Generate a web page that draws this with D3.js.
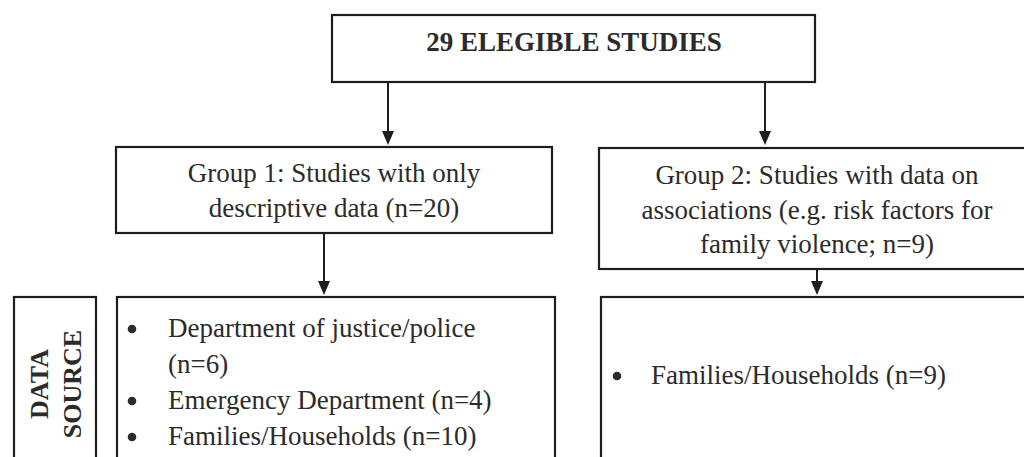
<!DOCTYPE html>
<html>
<head>
<meta charset="utf-8">
<script src="https://cdn.jsdelivr.net/npm/d3@7"></script>
<style>
  body { margin: 0; background: #fff; }
  svg text { font-family: "Liberation Serif", "Times New Roman", serif; fill: #2b2b2b; }
</style>
</head>
<body>
<div id="chart"></div>
<script>
// text content of the flow chart
const title = "29 ELEGIBLE STUDIES";
const group1Lines = ["Group 1: Studies with only", "descriptive data (n=20)"];
const group2Lines = ["Group 2: Studies with data on", "associations (e.g. risk factors for", "family violence; n=9)"];
const source1Items = [["Department of justice/police", "(n=6)"], ["Emergency Department (n=4)"], ["Families/Households (n=10)"]];
const source2Items = [["Families/Households (n=9)"]];
const sideLabel = ["DATA", "SOURCE"];

const width = 1024, height = 457;
const fs = 27, lh = 34.5;

const svg = d3.select("#chart").append("svg")
    .attr("width", width)
    .attr("height", height);

const stroke = "#1e1e1e";

function box(x, y, w, h) {
    svg.append("rect")
        .attr("x", x).attr("y", y)
        .attr("width", w).attr("height", h)
        .attr("fill", "none")
        .attr("stroke", stroke)
        .attr("stroke-width", 2.2);
}

function arrow(x, y1, y2) {
    svg.append("line")
        .attr("x1", x).attr("x2", x)
        .attr("y1", y1).attr("y2", y2 - 12)
        .attr("stroke", stroke)
        .attr("stroke-width", 2);
    svg.append("path")
        .attr("d", d3.line()([[x - 6, y2 - 14], [x + 6, y2 - 14], [x, y2]]) + "Z")
        .attr("fill", stroke);
}

function lines(arr, cx, cy) {
    // cy = centre of first line
    svg.append("g").selectAll("text")
        .data(arr)
        .join("text")
        .attr("x", cx)
        .attr("y", (d, i) => cy + i * lh)
        .attr("dy", "0.35em")
        .attr("text-anchor", "middle")
        .style("font-size", fs + "px")
        .text(d => d);
}

// top box
box(332, 15, 483, 67);
svg.append("text")
    .attr("x", 574).attr("y", 42)
    .attr("dy", "0.35em")
    .attr("text-anchor", "middle")
    .style("font-size", fs + "px")
    .style("font-weight", "bold")
    .text(title);

arrow(388, 83, 145);
arrow(765, 83, 145);

// group boxes
box(116, 147, 436, 86);
lines(group1Lines, 334, 173);

box(599, 148, 450, 121);
lines(group2Lines, 817, 175);

arrow(324, 233, 295);
arrow(817, 269, 295);

// data source label box
box(14, 297, 82, 200);
const side = svg.append("g").attr("transform", "translate(55,384) rotate(-90)");
side.selectAll("text")
    .data(sideLabel)
    .join("text")
    .attr("x", 0)
    .attr("y", (d, i) => -16 + i * 33)
    .attr("dy", "0.35em")
    .attr("text-anchor", "middle")
    .style("font-size", "26px")
    .style("font-weight", "bold")
    .text(d => d);

// bullet boxes
box(117, 297, 438, 200);
box(601, 297, 450, 200);

function bullets(items, bx, tx, y0) {
    let row = 0;
    items.forEach(item => {
        svg.append("circle")
            .attr("cx", bx).attr("cy", y0 + row * 36 + 1)
            .attr("r", 4.3)
            .attr("fill", "#2b2b2b");
        item.forEach(t => {
            svg.append("text")
                .attr("x", tx)
                .attr("y", y0 + row * 36)
                .attr("dy", "0.35em")
                .style("font-size", fs + "px")
                .text(t);
            row++;
        });
    });
}

bullets(source1Items, 132, 168, 328);
bullets(source2Items, 617, 651, 375);
</script>
</body>
</html>
